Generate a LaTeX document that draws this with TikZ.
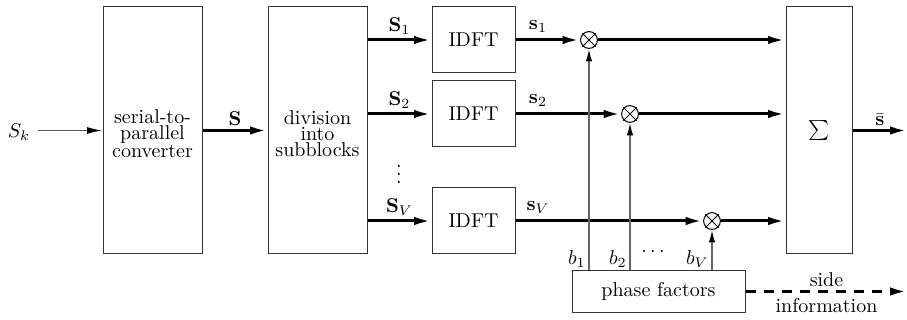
\documentclass[tikz,border=0pt]{standalone}
\usetikzlibrary{arrows.meta}
\begin{document}
\begin{tikzpicture}[x=0.5pt,y=-0.5pt,scale=2,
  every node/.style={transform shape},
  font=\fontsize{10}{8}\selectfont,
  blockbox/.style={draw=black!80,line width=1pt,inner sep=0pt,align=center},
  blocktext/.style={align=center,inner sep=0pt},
  mult/.style={circle,draw=black,line width=1pt,minimum size=8.4pt,inner sep=0pt},
  thickarrow/.style={line width=3pt,-{Latex[length=17pt,width=8.5pt]}},
  thinarrow/.style={draw=black!65,line width=1.2pt,-{Latex[length=15pt,width=7pt,color=black]}},
  barrow/.style={draw=black!60,line width=1.2pt,-{Latex[length=12pt,width=6.5pt,color=black]}},
  sidearrow/.style={line width=3pt,dash pattern=on 10pt off 8pt,-{Latex[length=17pt,width=8.5pt]}},
  lab/.style={inner sep=1pt}
]
\useasboundingbox (0,0) rectangle (907,320);

% blocks
\node[blockbox,minimum width=49.5pt,minimum height=123.5pt] (sp) at (152.5,130.5) {};
\node[blocktext] (sptext) at (152.5,134) {serial-to-\\parallel\\converter};
\node[blockbox,minimum width=49.5pt,minimum height=123.5pt] (div) at (317.5,130.5) {};
\node[blocktext] (divtext) at (317.5,134) {division\\into\\subblocks};
\node[blockbox,minimum width=41.5pt,minimum height=33pt] (idft1) at (473.5,40) {IDFT};
\node[blockbox,minimum width=41.5pt,minimum height=33pt] (idft2) at (473.5,114) {IDFT};
\node[blockbox,minimum width=41.5pt,minimum height=33pt] (idftv) at (473.5,221) {IDFT};
\node[blockbox,minimum width=33pt,minimum height=123.5pt] (sum) at (819,130.5) {$\sum$};
\node[blockbox,minimum width=86.5pt,minimum height=20.5pt] (phase) at (658.5,291.5) {phase factors};

% multipliers
\node[mult] (m1) at (589,40) {};
\node[mult] (m2) at (630,114) {};
\node[mult] (mv) at (712,221) {};
\foreach \m in {m1,m2,mv}{
  \draw[line width=0.9pt] (\m.north west) -- (\m.south east) (\m.north east) -- (\m.south west);
}

% input
\node (sk) at (19,132) {$S_k$};
\coordinate (in) at (38,130.5);
\draw[thinarrow] (in) -- (sp.west);

% S
\draw[thickarrow] (sp.east) -- (div.west) node[midway,above,lab] {$\mathbf{S}$};

% division -> IDFT
\draw[thickarrow] (div.east |- idft1) -- (idft1.west) node[midway,above,lab] {$\mathbf{S}_1$};
\draw[thickarrow] (div.east |- idft2) -- (idft2.west) node[midway,above,lab] {$\mathbf{S}_2$};
\draw[thickarrow] (div.east |- idftv) -- (idftv.west) node[midway,above,lab] {$\mathbf{S}_V$};
\node (vd) at (399,168) {$\vdots$};

% IDFT -> multipliers
\draw[thickarrow] (idft1.east) -- (m1.west);
\draw[thickarrow] (idft2.east) -- (m2.west);
\draw[thickarrow] (idftv.east) -- (mv.west);
\node[lab,anchor=south] (ls1) at (538,35) {$\mathbf{s}_1$};
\node[lab,anchor=south] (ls2) at (538,109) {$\mathbf{s}_2$};
\node[lab,anchor=south] (lsv) at (538,216) {$\mathbf{s}_V$};

% multipliers -> sum
\draw[thickarrow] (m1.east) -- (sum.west |- m1);
\draw[thickarrow] (m2.east) -- (sum.west |- m2);
\draw[thickarrow] (mv.east) -- (sum.west |- mv);

% phase factors -> multipliers
\draw[barrow] (phase.north -| m1) -- (m1.south);
\draw[barrow] (phase.north -| m2) -- (m2.south);
\draw[barrow] (phase.north -| mv) -- (mv.south);
\node[lab,anchor=east] (b1) at (588,259) {$b_1$};
\node[lab,anchor=east] (b2) at (629,259) {$b_2$};
\node[lab,anchor=east] (bv) at (711,259) {$b_V$};
\node (cd) at (653,252) {$\cdots$};

% output
\coordinate (out) at (907,130.5);
\draw[thickarrow] (sum.east) -- (out) node[midway,above,lab] {$\bar{\mathbf{s}}$};

% side information
\coordinate (si) at (907,291.5);
\draw[sidearrow] (phase.east) -- (si)
  node[midway,above,inner sep=1pt] {side}
  node[midway,below,inner sep=2pt] {information};
\end{tikzpicture}
\end{document}
